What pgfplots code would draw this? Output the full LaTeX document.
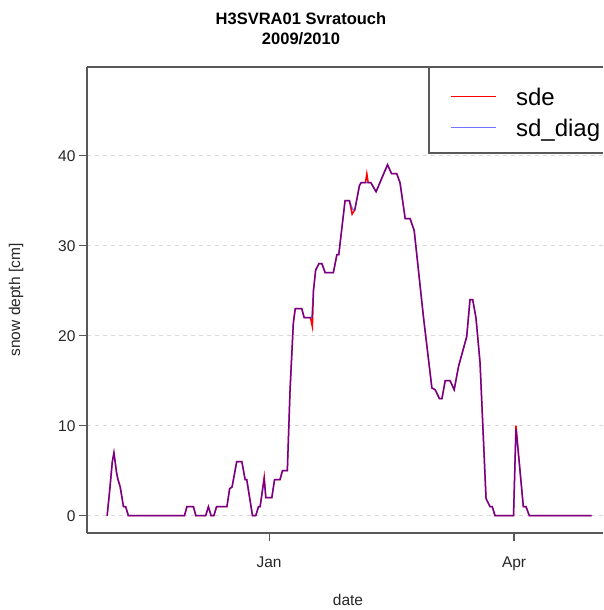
\documentclass[border=0pt]{standalone}
\usepackage{fontspec}
\setmainfont{Liberation Sans}
\usepackage{pgfplots}
\pgfplotsset{compat=1.18}
\begin{document}
\begin{tikzpicture}
\path (-87pt,-77pt) rectangle (516pt,533pt);
\begin{axis}[
  at={(0pt,0pt)}, anchor=south west,
  scale only axis, width=516pt, height=466pt,
  xmin=-66.9, xmax=122.67, ymin=-1.92, ymax=49.86,
  axis x line*=bottom, axis y line*=left,
  xtick={0,90}, xticklabels={Jan,Apr},
  ytick={0,10,20,30,40},
  tick align=outside, major tick length=8pt,
  ymajorgrids, grid style={gray!30, dash pattern=on 4pt off 4pt, line width=0.8pt},
  axis line style={black!65, line width=1.2pt},
  tick style={black!65, line width=1.2pt},
  tick label style={font=\fontsize{15.5}{18}\selectfont, text=black!85},
  /pgf/number format/assume math mode=true,
  xticklabel style={yshift=-12pt},
  xlabel={date}, ylabel={snow depth [cm]},
  label style={font=\fontsize{15.5}{18}\selectfont, text=black!85},
  xlabel style={at={(axis description cs:0.5058,-0.1438)}, anchor=center},
  ylabel style={at={(axis description cs:-0.1376,0.5)}, anchor=center},
  title={H3SVRA01 Svratouch\\2009/2010},
  title style={at={(axis description cs:0.4147,1.0693)}, anchor=center, align=center, font=\fontsize{16.5}{20}\selectfont\bfseries},
  legend style={at={(axis description cs:0.7035,0.9742)}, anchor=north west, draw=none, fill=none, inner xsep=0pt, inner ysep=0pt, row sep=0pt, column sep=20pt, nodes={inner sep=0pt, text height=26pt, text depth=5pt}, font=\fontsize{24}{28}\selectfont},
  legend cell align=left,
  legend image code/.code={\draw[#1, line width=0.9pt] (0pt,-2pt) -- (45pt,-2pt);},
]
\draw[black!65, line width=1.2pt] (rel axis cs:0,1) -- (rel axis cs:1,1);
\draw[black!65, line width=1.2pt] (rel axis cs:0.6628,1) -- (rel axis cs:0.6628,0.8155) -- (rel axis cs:1,0.8155);
\addplot[red, line width=1.5pt] coordinates {
(-59.5,0) (-58.5,3) (-57.6,6) (-57,7) (-56,4.7) (-55.5,4) (-54.7,3.2) (-53.5,1) (-52.7,1) (-51.7,0) (-31.1,0) (-30.2,1) (-27.8,1) (-26.9,0) (-23.3,0) (-22.3,1) (-21.3,0) (-20.3,0) (-19.3,1) (-15.5,1) (-14.5,3) (-13.6,3.2) (-11.9,6) (-10,6) (-8.8,4) (-8.2,4) (-6.1,0) (-4.9,0) (-3.9,1) (-3.3,1) (-1.8,4.3) (-1.2,2) (1,2) (2,4) (4,4) (4.9,5) (6.7,5) (7.7,14) (8.9,21.4) (9.6,23) (12,23) (12.9,22) (15.2,22) (15.9,21) (16.3,25) (17.1,27.3) (18.3,28) (19.4,28) (20.6,27) (23.6,27) (24.9,29) (25.6,29) (27.9,35) (29.5,35) (30.5,33.5) (31.5,34) (33.2,36.7) (33.8,37) (35.4,37) (35.9,38) (36.4,37) (37.4,37) (39.3,36) (43.5,39) (45,38) (46.9,38) (48.1,37) (50,33) (51.8,33) (53.3,31.7) (56.7,22.1) (59.8,14.2) (61,14) (62.6,13) (63.5,13) (64.7,15) (66.5,15) (68,14) (69.6,16.6) (72.6,19.9) (73.8,24) (74.8,24) (76,22) (77.5,17) (79.7,1.9) (81.2,1) (82,1) (83,0) (89.8,0) (90.7,10) (93.4,1) (94.4,1) (95.6,0) (118.5,0)
};
\addlegendentry{sde}
\addplot[blue, opacity=0.55, line width=1.5pt] coordinates {
(-59.5,0) (-58.5,3) (-57.6,6) (-57,7) (-56,4.7) (-55.5,4) (-54.7,3.2) (-53.5,1) (-52.7,1) (-51.7,0) (-31.1,0) (-30.2,1) (-27.8,1) (-26.9,0) (-23.3,0) (-22.3,1) (-21.3,0) (-20.3,0) (-19.3,1) (-15.5,1) (-14.5,3) (-13.6,3.2) (-11.9,6) (-10,6) (-8.8,4) (-8.2,4) (-6.1,0) (-4.9,0) (-3.9,1) (-3.3,1) (-1.8,4) (-1.2,2) (1,2) (2,4) (4,4) (4.9,5) (6.7,5) (7.7,14) (8.9,21.4) (9.6,23) (12,23) (12.9,22) (15.7,22) (16.3,25) (17.1,27.3) (18.3,28) (19.4,28) (20.6,27) (23.6,27) (24.9,29) (25.6,29) (27.9,35) (29.5,35) (30.7,34) (31.5,34) (33.2,36.7) (33.8,37) (37.4,37) (39.3,36) (43.5,39) (45,38) (46.9,38) (48.1,37) (50,33) (51.8,33) (53.3,31.7) (56.7,22.1) (59.8,14.2) (61,14) (62.6,13) (63.5,13) (64.7,15) (66.5,15) (68,14) (69.6,16.6) (72.6,19.9) (73.8,24) (74.8,24) (76,22) (77.5,17) (79.7,1.9) (81.2,1) (82,1) (83,0) (89.8,0) (90.7,9.6) (93.4,1) (94.4,1) (95.6,0) (118.5,0)
};
\addlegendentry{sd\_diag}
\end{axis}
\end{tikzpicture}
\end{document}
